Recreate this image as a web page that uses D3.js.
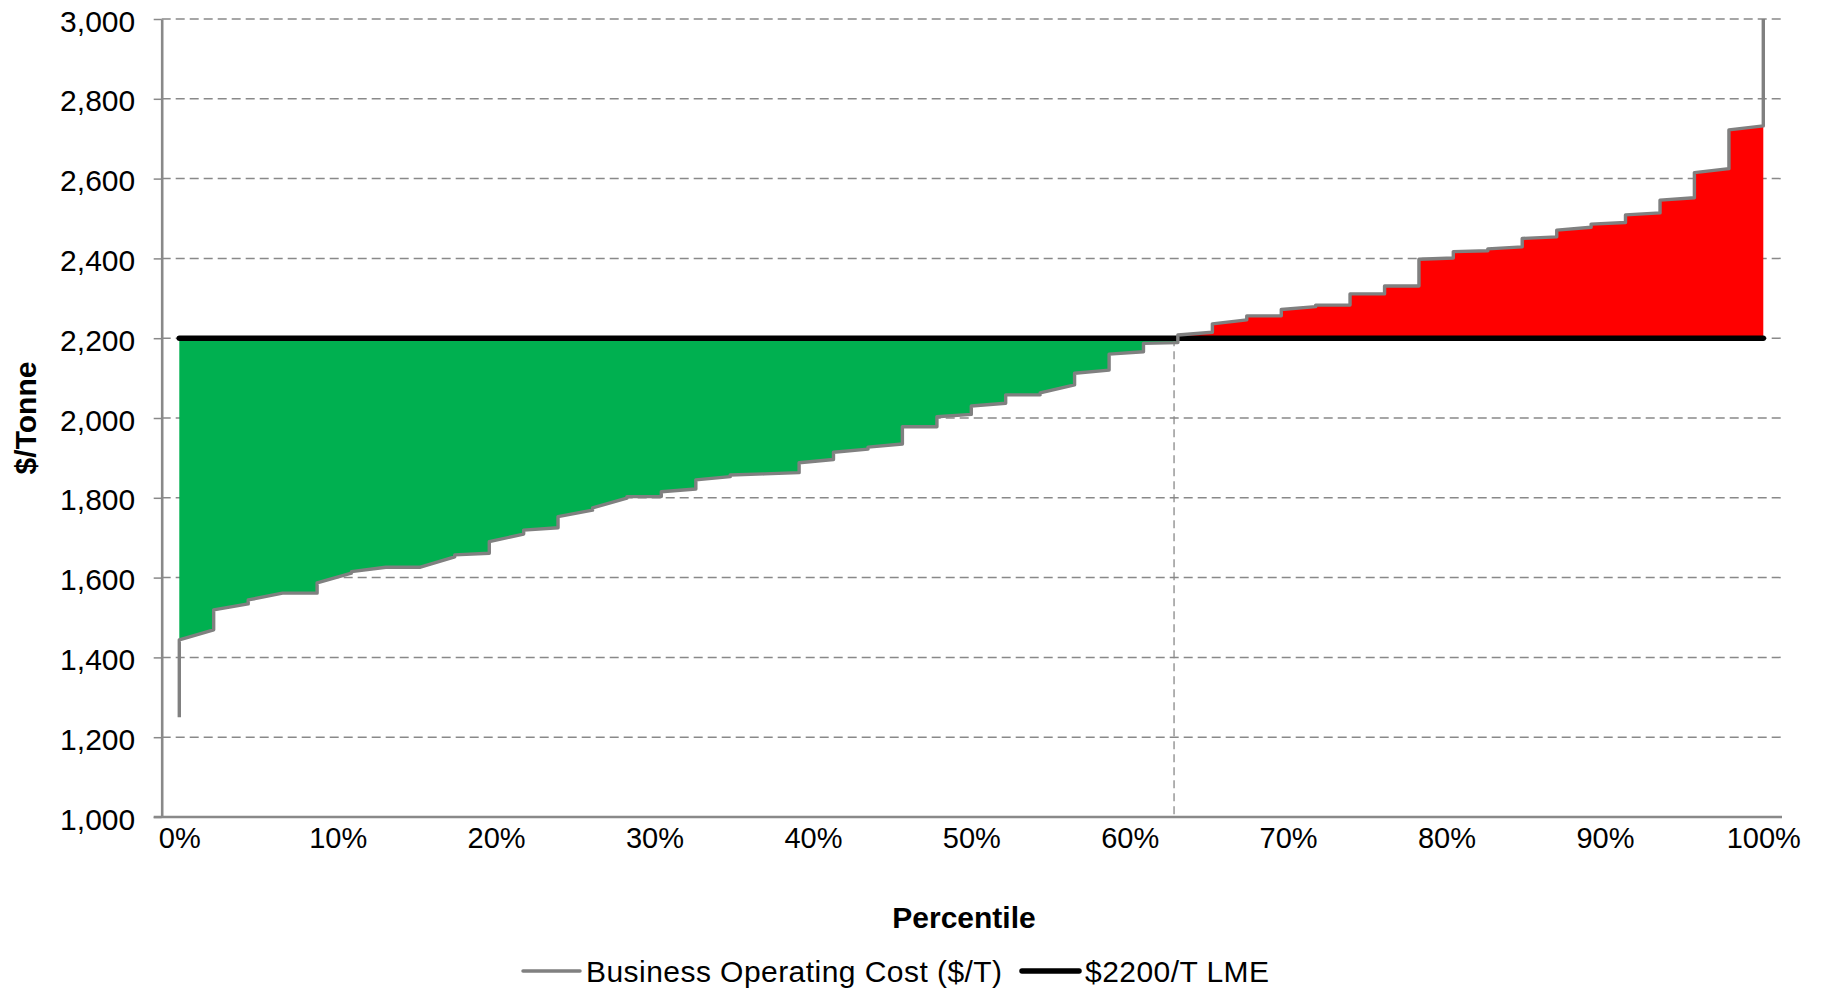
<!DOCTYPE html>
<html>
<head>
<meta charset="utf-8">
<script src="https://cdn.jsdelivr.net/npm/d3@7"></script>
<style>
  html, body { margin: 0; padding: 0; background: #fff; }
  svg { display: block; font-family: "Liberation Sans", Arial, sans-serif; }
</style>
</head>
<body>
<svg id="chart" width="1826" height="993"></svg>
<script>
// Cumulative capacity percentile at each producer boundary
const percentiles = [0, 2.17, 4.35, 6.52, 8.7, 10.87, 13.04, 15.22, 17.39, 19.57, 21.74, 23.91,
  26.09, 28.26, 30.43, 32.61, 34.78, 36.96, 39.13, 41.3, 43.48, 45.65, 47.83, 50, 52.17, 54.35,
  56.52, 58.7, 60.87, 63.04, 65.22, 67.39, 69.57, 71.74, 73.91, 76.09, 78.26, 80.43, 82.61, 84.78,
  86.96, 89.13, 91.3, 93.48, 95.65, 97.83, 100];

// Operating cost ($/T) at the start and end of each producer's block
const costStart = [1444, 1519, 1544, 1561, 1587, 1615, 1626, 1626, 1657, 1690, 1719, 1753, 1775,
  1803, 1815, 1845, 1857, 1860, 1888, 1914, 1927, 1978, 2003, 2030, 2058, 2063, 2112, 2160, 2187,
  2208, 2236, 2256, 2272, 2283, 2311, 2331, 2398, 2417, 2424, 2450, 2471, 2486, 2509, 2546, 2615, 2722];
const costEnd = [1469, 1534, 1561, 1561, 1611, 1626, 1626, 1652, 1661, 1709, 1725, 1769, 1799,
  1803, 1822, 1853, 1860, 1863, 1896, 1922, 1935, 1978, 2009, 2037, 2058, 2083, 2120, 2166, 2189,
  2215, 2246, 2256, 2279, 2283, 2311, 2331, 2401, 2419, 2429, 2454, 2478, 2490, 2514, 2552, 2625, 2732];

// Curve tails at either end of the distribution
const lowestCost = 1250;
const highestCost = 3000;

// LME price and the percentile where cost crosses it
const lmePrice = 2200;
const breakEvenPct = 62.8;

// Axis ticks
const yTicks = [1000, 1200, 1400, 1600, 1800, 2000, 2200, 2400, 2600, 2800, 3000];
const xTicks = [0, 10, 20, 30, 40, 50, 60, 70, 80, 90, 100];

const legendLabels = ["Business Operating Cost ($/T)", "$2200/T LME"];

// ---- layout ----
const plot = { left: 161.7, right: 1781, top: 19, bottom: 817 };
const svg = d3.select("#chart");

const x = d3.scaleLinear().domain([0, 100]).range([179.3, 1763.3]);
const y = d3.scaleLinear().domain([1000, 3000]).range([plot.bottom, plot.top]);

const gridColor = "#898989";
const curveColor = "#808080";

// cost curve points: vertical step at each boundary, then the block's slope
const blocks = [];
for (let i = 0; i < costStart.length; i++) {
  blocks.push([percentiles[i], costStart[i]]);
  blocks.push([percentiles[i + 1], costEnd[i]]);
}
const curve = [[0, lowestCost], ...blocks, [100, highestCost]];

// ---- gridlines ----
svg.append("g")
  .selectAll("line")
  .data(yTicks.filter(d => d > 1000))
  .join("line")
  .attr("x1", plot.left).attr("x2", plot.right)
  .attr("y1", d => y(d)).attr("y2", d => y(d))
  .attr("stroke", gridColor).attr("stroke-width", 1.5)
  .attr("stroke-dasharray", "9,5");

// ---- margin fills ----
const defs = svg.append("defs");
defs.append("clipPath").attr("id", "below-lme")
  .append("rect")
  .attr("x", 0).attr("width", 1826)
  .attr("y", y(lmePrice)).attr("height", plot.bottom - y(lmePrice));
defs.append("clipPath").attr("id", "above-lme")
  .append("rect")
  .attr("x", 0).attr("width", 1826)
  .attr("y", 0).attr("height", y(lmePrice));

const marginArea = d3.area()
  .x(d => x(d[0]))
  .y0(y(lmePrice))
  .y1(d => y(d[1]));

svg.append("path")
  .datum(blocks)
  .attr("d", marginArea)
  .attr("fill", "#00B050")
  .attr("clip-path", "url(#below-lme)");

svg.append("path")
  .datum(blocks)
  .attr("d", marginArea)
  .attr("fill", "#FF0000")
  .attr("clip-path", "url(#above-lme)");

// ---- break-even marker ----
svg.append("line")
  .attr("x1", x(breakEvenPct)).attr("x2", x(breakEvenPct))
  .attr("y1", y(lmePrice)).attr("y2", plot.bottom)
  .attr("stroke", gridColor).attr("stroke-width", 1.3)
  .attr("stroke-dasharray", "8,5");

// ---- axes ----
const yAxis = svg.append("g")
  .attr("transform", `translate(${plot.left},0)`)
  .call(d3.axisLeft(y).tickValues(yTicks).tickFormat(d3.format(",")).tickSize(8).tickSizeOuter(0));
yAxis.select(".domain").attr("stroke", gridColor).attr("stroke-width", 2.6);
yAxis.selectAll(".tick line").attr("stroke", gridColor).attr("stroke-width", 1.5);
yAxis.selectAll(".tick text")
  .attr("x", -26.5).attr("dy", "0.4em")
  .attr("font-size", 30).attr("fill", "#000")
  .attr("font-family", "Liberation Sans, Arial, sans-serif");

// horizontal base line
svg.append("line")
  .attr("x1", plot.left - 8).attr("x2", plot.right + 1)
  .attr("y1", plot.bottom).attr("y2", plot.bottom)
  .attr("stroke", gridColor).attr("stroke-width", 2.6);

const xAxis = svg.append("g")
  .attr("transform", `translate(0,${plot.bottom})`)
  .call(d3.axisBottom(x).tickValues(xTicks).tickFormat(d => d + "%").tickSize(0));
xAxis.select(".domain").remove();
xAxis.selectAll(".tick text")
  .attr("y", 31).attr("dy", 0)
  .attr("font-size", 29).attr("fill", "#000")
  .attr("font-family", "Liberation Sans, Arial, sans-serif");

// ---- LME price line ----
svg.append("line")
  .attr("x1", x(0)).attr("x2", x(100))
  .attr("y1", y(lmePrice)).attr("y2", y(lmePrice))
  .attr("stroke", "#000").attr("stroke-width", 5.5)
  .attr("stroke-linecap", "round");

// ---- cost curve ----
svg.append("path")
  .datum(curve)
  .attr("d", d3.line().x(d => x(d[0])).y(d => y(d[1])))
  .attr("fill", "none")
  .attr("stroke", curveColor).attr("stroke-width", 3.4)
  .attr("stroke-linejoin", "round");

// ---- axis titles ----
svg.append("text")
  .attr("transform", `translate(36,${(plot.top + plot.bottom) / 2}) rotate(-90)`)
  .attr("text-anchor", "middle")
  .attr("font-size", 30).attr("font-weight", "bold")
  .text("$/Tonne");

svg.append("text")
  .attr("x", 964).attr("y", 928)
  .attr("text-anchor", "middle")
  .attr("font-size", 30).attr("font-weight", "bold")
  .text("Percentile");

// ---- legend ----
const legendItems = [
  { label: legendLabels[0], color: curveColor, width: 3.5, x: 523 },
  { label: legendLabels[1], color: "#000", width: 5.5, x: 1022 }
];
const legend = svg.append("g");
legendItems.forEach(item => {
  legend.append("line")
    .attr("x1", item.x).attr("x2", item.x + 57)
    .attr("y1", 971).attr("y2", 971)
    .attr("stroke", item.color).attr("stroke-width", item.width)
    .attr("stroke-linecap", "round");
  legend.append("text")
    .attr("x", item.x + 63).attr("y", 982)
    .attr("font-size", 30).attr("letter-spacing", 0.45)
    .text(item.label);
});
</script>
</body>
</html>
